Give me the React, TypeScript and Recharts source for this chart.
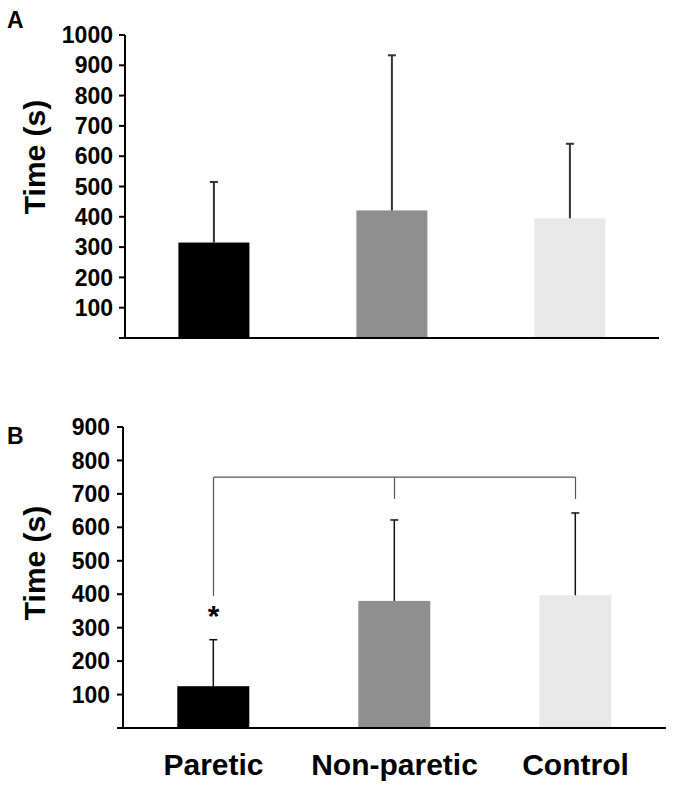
import React from 'react';
import { BarChart, Bar, Cell, XAxis, YAxis, ReferenceLine, ReferenceDot } from 'recharts';

const groups = ['Paretic', 'Non-paretic', 'Control'];
const meanA = [315, 421, 395];
const sdA = [200, 512, 246];
const meanB = [125, 380, 397];
const sdB = [139, 242, 246];
const ticksA = [0, 100, 200, 300, 400, 500, 600, 700, 800, 900, 1000];
const ticksB = [0, 100, 200, 300, 400, 500, 600, 700, 800, 900];
const COLORS = ['#000000', '#8f8f8f', '#e8e8e8'];
// significance bracket in panel B: top value and where each leg stops
const bracketTop = 750;
const bracketLegs = [395, 685, 685];
const starValue = 338;

const FONT = '"Liberation Sans", Arial, sans-serif';

const dataA = groups.map((name, i) => ({ name, value: meanA[i], sd: sdA[i] }));
const dataB = groups.map((name, i) => ({ name, value: meanB[i], sd: sdB[i] }));

const tickStyle = { fontSize: 23, fontWeight: 700, fill: '#000', fontFamily: FONT };
const hideZero = (v: number) => (v === 0 ? '' : String(v));

// bar + upper-only SD whisker (no cap at the bar top, as in the figure)
const barWithSd = (stroke: string, strokeWidth: number) => (props: any) => {
  const { x, y, width, height, fill, payload } = props;
  const perUnit = payload.value ? height / payload.value : 0;
  const top = y - payload.sd * perUnit;
  const cx = x + width / 2;
  return (
    <g>
      <rect x={x} y={y} width={width} height={height} fill={fill} />
      <line x1={cx} y1={y} x2={cx} y2={top} stroke={stroke} strokeWidth={strokeWidth} />
      <line x1={cx - 4} y1={top} x2={cx + 4} y2={top} stroke={stroke} strokeWidth={strokeWidth} />
    </g>
  );
};

const yTitle = (x: number, y: number) => () => (
  <text
    x={x}
    y={y}
    transform={`rotate(-90 ${x} ${y})`}
    textAnchor="middle"
    dominantBaseline="central"
    style={{ fontSize: 30, fontWeight: 700, fontFamily: FONT, fill: '#000' }}
  >
    Time (s)
  </text>
);

const panelLetter = (letter: string, y: number) => () => (
  <text x={7} y={y} style={{ fontSize: 23, fontWeight: 700, fontFamily: FONT, fill: '#000' }}>
    {letter}
  </text>
);

const App: React.FC = () => {
  return (
    <div style={{ position: 'absolute', left: 0, top: 0, width: 679, height: 789, background: '#fff' }}>
      <div style={{ position: 'absolute', left: 0, top: 0 }}>
        <BarChart width={679} height={345} data={dataA} margin={{ top: 35, right: 20, left: 0, bottom: 0 }} barCategoryGap="30%">
          <XAxis dataKey="name" height={7} tick={false} tickLine={false} axisLine={{ stroke: '#000', strokeWidth: 2 }} />
          <YAxis
            width={125}
            domain={[0, 1000]}
            ticks={ticksA}
            interval={0}
            tickFormatter={hideZero}
            tick={tickStyle}
            tickSize={6}
            tickMargin={6}
            tickLine={{ stroke: '#000', strokeWidth: 2 }}
            axisLine={{ stroke: '#000', strokeWidth: 2 }}
            label={{ content: yTitle(34, 157) } as any}
          />
          <ReferenceDot x="Paretic" y={1000} r={0} fill="none" stroke="none" label={{ content: panelLetter('A', 28) } as any} />
          <Bar dataKey="value" isAnimationActive={false} shape={barWithSd('#333', 2)}>
            {dataA.map((_, i) => (
              <Cell key={`a-${i}`} fill={COLORS[i]} />
            ))}
          </Bar>
        </BarChart>
      </div>
      <div style={{ position: 'absolute', left: 0, top: 390 }}>
        <BarChart width={679} height={399} data={dataB} margin={{ top: 37, right: 13, left: 0, bottom: 0 }} barCategoryGap="30%">
          <XAxis
            dataKey="name"
            height={61}
            tickLine={false}
            tickSize={0}
            tickMargin={26}
            tick={{ fontSize: 30, fontWeight: 700, fill: '#000', fontFamily: FONT }}
            axisLine={{ stroke: '#000', strokeWidth: 2 }}
            interval={0}
          />
          <YAxis
            width={123}
            domain={[0, 900]}
            ticks={ticksB}
            interval={0}
            tickFormatter={hideZero}
            tick={tickStyle}
            tickSize={6}
            tickMargin={7}
            tickLine={{ stroke: '#000', strokeWidth: 2 }}
            axisLine={{ stroke: '#000', strokeWidth: 2 }}
            label={{ content: yTitle(34, 173) } as any}
          />
          <ReferenceDot x="Paretic" y={900} r={0} fill="none" stroke="none" label={{ content: panelLetter('B', 54) } as any} />
          <Bar dataKey="value" isAnimationActive={false} shape={barWithSd('#111', 1.5)}>
            {dataB.map((_, i) => (
              <Cell key={`b-${i}`} fill={COLORS[i]} />
            ))}
          </Bar>
          <ReferenceLine
            segment={[{ x: groups[0], y: bracketTop }, { x: groups[2], y: bracketTop }]}
            stroke="#555"
            strokeWidth={1.2}
          />
          {groups.map((g, i) => (
            <ReferenceLine
              key={`leg-${i}`}
              segment={[{ x: g, y: bracketTop }, { x: g, y: bracketLegs[i] }]}
              stroke="#555"
              strokeWidth={1.2}
            />
          ))}
          <ReferenceDot
            x={groups[0]}
            y={starValue}
            r={0}
            fill="none"
            stroke="none"
            label={{ value: '*', position: 'center', fontSize: 30, fontWeight: 700, fill: '#000', fontFamily: FONT }}
          />
        </BarChart>
      </div>
    </div>
  );
};

export default App;
